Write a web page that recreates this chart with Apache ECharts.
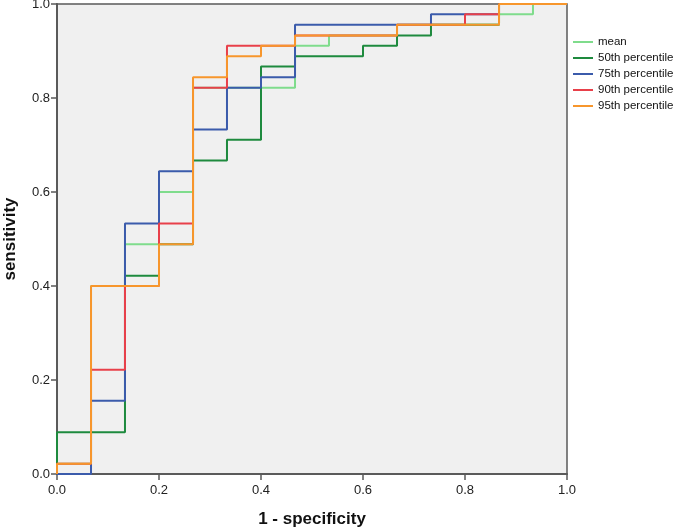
<!DOCTYPE html>
<html>
<head>
<meta charset="utf-8">
<script src="https://cdn.jsdelivr.net/npm/echarts@6/dist/echarts.min.js"></script>
<style>
html,body{margin:0;padding:0;background:#fff;}
#c{width:685px;height:527px;}
</style>
</head>
<body>
<div id="c"></div>
<script>
// 1 - specificity at each step (x)
const fpr = [0, 0.0667, 0.1333, 0.2, 0.2667, 0.3333, 0.4, 0.4667, 0.5333, 0.6, 0.6667, 0.7333, 0.8, 0.8667, 0.9333, 1];
// sensitivity reached before moving right to the x value at same index
const sensMean = [0, 0.022, 0.4, 0.489, 0.6, 0.822, 0.822, 0.822, 0.911, 0.933, 0.933, 0.956, 0.956, 0.956, 0.978, 1];
const sens50 = [0, 0.089, 0.089, 0.422, 0.489, 0.667, 0.711, 0.867, 0.889, 0.889, 0.911, 0.933, 0.956, 0.956, 1, 1];
const sens75 = [0, 0, 0.156, 0.533, 0.644, 0.733, 0.822, 0.844, 0.956, 0.956, 0.956, 0.956, 0.978, 0.978, 1, 1];
const sens90 = [0, 0.022, 0.222, 0.4, 0.533, 0.822, 0.911, 0.911, 0.933, 0.933, 0.933, 0.956, 0.956, 0.978, 1, 1];
const sens95 = [0, 0.022, 0.4, 0.4, 0.489, 0.844, 0.889, 0.911, 0.933, 0.933, 0.933, 0.956, 0.956, 0.956, 1, 1];
const seriesNames = ['mean', '50th percentile', '75th percentile', '90th percentile', '95th percentile'];

const colors = ['#7fdc8c', '#1e8a3e', '#3b5bab', '#e8404a', '#f7962c'];
const sensAll = [sensMean, sens50, sens75, sens90, sens95];

const chart = echarts.init(document.getElementById('c'), null, {renderer: 'canvas'});
const series = sensAll.map((s, i) => ({
  name: seriesNames[i],
  type: 'line',
  step: 'start',
  symbol: 'none',
  clip: false,
  lineStyle: {color: colors[i], width: 2},
  itemStyle: {color: colors[i]},
  data: fpr.map((x, j) => [x, s[j]])
}));

const axisFont = {fontFamily: 'Liberation Sans, Arial, sans-serif', fontSize: 13, color: '#222'};
chart.setOption({
  animation: false,
  backgroundColor: '#ffffff',
  grid: {left: 57, right: 118, top: 4, bottom: 53, containLabel: false, outerBoundsMode: 'none',
         show: true, backgroundColor: '#f0f0f0', borderColor: '#5a5a5a', borderWidth: 1.5},
  legend: {
    orient: 'vertical', left: 568, top: 31,
    itemWidth: 20, itemHeight: 2, itemGap: 4,
    icon: 'rect',
    textStyle: {fontFamily: 'Liberation Sans, Arial, sans-serif', fontSize: 11.5, color: '#111', lineHeight: 12},
    data: seriesNames
  },
  xAxis: {
    type: 'value', min: 0, max: 1, interval: 0.2,
    name: '1 - specificity', nameLocation: 'middle', nameGap: 37,
    nameTextStyle: {fontFamily: 'Liberation Sans, Arial, sans-serif', fontSize: 17, fontWeight: 'bold', color: '#111'},
    axisLine: {show: true, lineStyle: {color: '#5a5a5a', width: 2}},
    axisTick: {show: true, length: 6, lineStyle: {color: '#5a5a5a', width: 1.5}},
    axisLabel: Object.assign({margin: 10, formatter: v => v.toFixed(1)}, axisFont),
    splitLine: {show: false}
  },
  yAxis: {
    type: 'value', min: 0, max: 1, interval: 0.2,
    name: 'sensitivity', nameLocation: 'middle', nameGap: 38,
    nameTextStyle: {fontFamily: 'Liberation Sans, Arial, sans-serif', fontSize: 17, fontWeight: 'bold', color: '#111'},
    axisLine: {show: true, lineStyle: {color: '#5a5a5a', width: 2}},
    axisTick: {show: true, length: 6, lineStyle: {color: '#5a5a5a', width: 1.5}},
    axisLabel: Object.assign({margin: 7, formatter: v => v.toFixed(1)}, axisFont),
    splitLine: {show: false}
  },
  series: series
});
</script>
</body>
</html>
